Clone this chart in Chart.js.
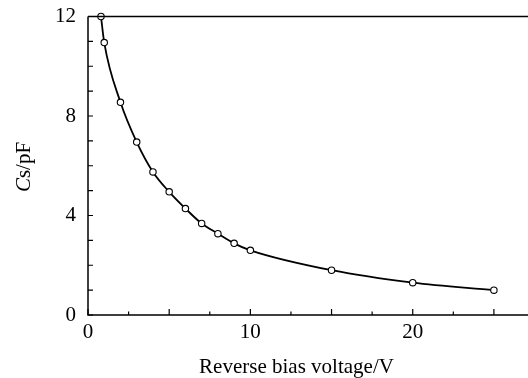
<!DOCTYPE html>
<html>
<head>
<meta charset="utf-8">
<script src="https://cdn.jsdelivr.net/npm/chart.js@4/dist/chart.umd.min.js"></script>
<style>
  html, body { margin: 0; padding: 0; background: #fff; }
  #wrap { width: 528px; height: 378px; }
</style>
</head>
<body>
<div id="wrap"><canvas id="chart"></canvas></div>
<script>
// data
const voltage = [0.8, 1, 2, 3, 4, 5, 6, 7, 8, 9, 10, 15, 20, 25];
const capacitance = [12, 10.95, 8.55, 6.95, 5.75, 4.95, 4.28, 3.68, 3.27, 2.88, 2.6, 1.8, 1.3, 1.0];

const xTickLabels = [0, 10, 20];
const yTickLabels = [0, 4, 8, 12];
const xMajorTicks = [0, 5, 10, 15, 20, 25];
const xMinorTicks = [2.5, 7.5, 12.5, 17.5, 22.5];
const yTicks = [0, 1, 2, 3, 4, 5, 6, 7, 8, 9, 10, 11, 12];

const FONT = "'Liberation Serif', 'Times New Roman', serif";

// frame, inward ticks and both axis titles (y title: italic C + regular s/pF)
const framePlugin = {
  id: 'frame',
  afterDraw(chart) {
    const ctx = chart.ctx;
    const a = chart.chartArea;
    const xs = chart.scales.x, ys = chart.scales.y;
    ctx.save();
    ctx.strokeStyle = '#000';
    ctx.lineWidth = 1.5;
    ctx.beginPath();
    ctx.moveTo(a.left, a.top);
    ctx.lineTo(a.right, a.top);
    ctx.moveTo(a.left, a.top);
    ctx.lineTo(a.left, a.bottom);
    ctx.lineTo(a.right, a.bottom);
    ctx.stroke();

    ctx.lineWidth = 1.2;
    ctx.beginPath();
    xMajorTicks.forEach(v => {
      const px = xs.getPixelForValue(v);
      ctx.moveTo(px, a.bottom);
      ctx.lineTo(px, a.bottom - 6);
    });
    xMinorTicks.forEach(v => {
      const px = xs.getPixelForValue(v);
      ctx.moveTo(px, a.bottom);
      ctx.lineTo(px, a.bottom - 3.5);
    });
    yTicks.forEach(v => {
      const py = ys.getPixelForValue(v);
      ctx.moveTo(a.left, py);
      ctx.lineTo(a.left + 5, py);
    });
    ctx.stroke();

    ctx.fillStyle = '#000';
    ctx.textBaseline = 'alphabetic';

    // x axis title
    ctx.font = '21px ' + FONT;
    ctx.textAlign = 'center';
    ctx.fillText('Reverse bias voltage/V', 296.5, 373);

    // y axis title
    ctx.translate(30, 167);
    ctx.rotate(-Math.PI / 2);
    ctx.font = 'italic 21px ' + FONT;
    const w1 = ctx.measureText('C').width;
    ctx.font = '21px ' + FONT;
    const w2 = ctx.measureText('s/pF').width;
    const start = -(w1 + w2) / 2;
    ctx.textAlign = 'left';
    ctx.font = 'italic 21px ' + FONT;
    ctx.fillText('C', start, 0);
    ctx.font = '21px ' + FONT;
    ctx.fillText('s/pF', start + w1, 0);
    ctx.restore();
  }
};

new Chart(document.getElementById('chart'), {
  type: 'line',
  data: {
    datasets: [{
      data: voltage.map((v, i) => ({ x: v, y: capacitance[i] })),
      borderColor: '#000',
      borderWidth: 1.8,
      cubicInterpolationMode: 'monotone',
      pointRadius: 3.2,
      pointBackgroundColor: '#fff',
      pointBorderColor: '#000',
      pointBorderWidth: 1.1,
      clip: false
    }]
  },
  options: {
    responsive: true,
    maintainAspectRatio: false,
    animation: false,
    layout: { autoPadding: false, padding: { top: 16.5, right: 0, left: 0, bottom: 0 } },
    plugins: { legend: { display: false }, tooltip: { enabled: false } },
    scales: {
      x: {
        type: 'linear',
        min: 0,
        max: 27.1,
        grid: { display: false, drawTicks: false },
        border: { display: false },
        afterBuildTicks: scale => { scale.ticks = xTickLabels.map(v => ({ value: v })); },
        afterFit: scale => {
          scale.height = 63;
          scale.paddingLeft = 0;
          scale.paddingRight = 0;
        },
        ticks: {
          color: '#000',
          padding: 5,
          maxRotation: 0,
          font: { family: FONT, size: 21 }
        }
      },
      y: {
        min: 0,
        max: 12,
        grid: { display: false, drawTicks: false },
        border: { display: false },
        afterBuildTicks: scale => { scale.ticks = yTickLabels.map(v => ({ value: v })); },
        afterFit: scale => {
          scale.width = 88;
          scale.paddingTop = 0;
          scale.paddingBottom = 0;
        },
        ticks: {
          color: '#000',
          padding: 12,
          font: { family: FONT, size: 21 }
        }
      }
    }
  },
  plugins: [framePlugin]
});
</script>
</body>
</html>
